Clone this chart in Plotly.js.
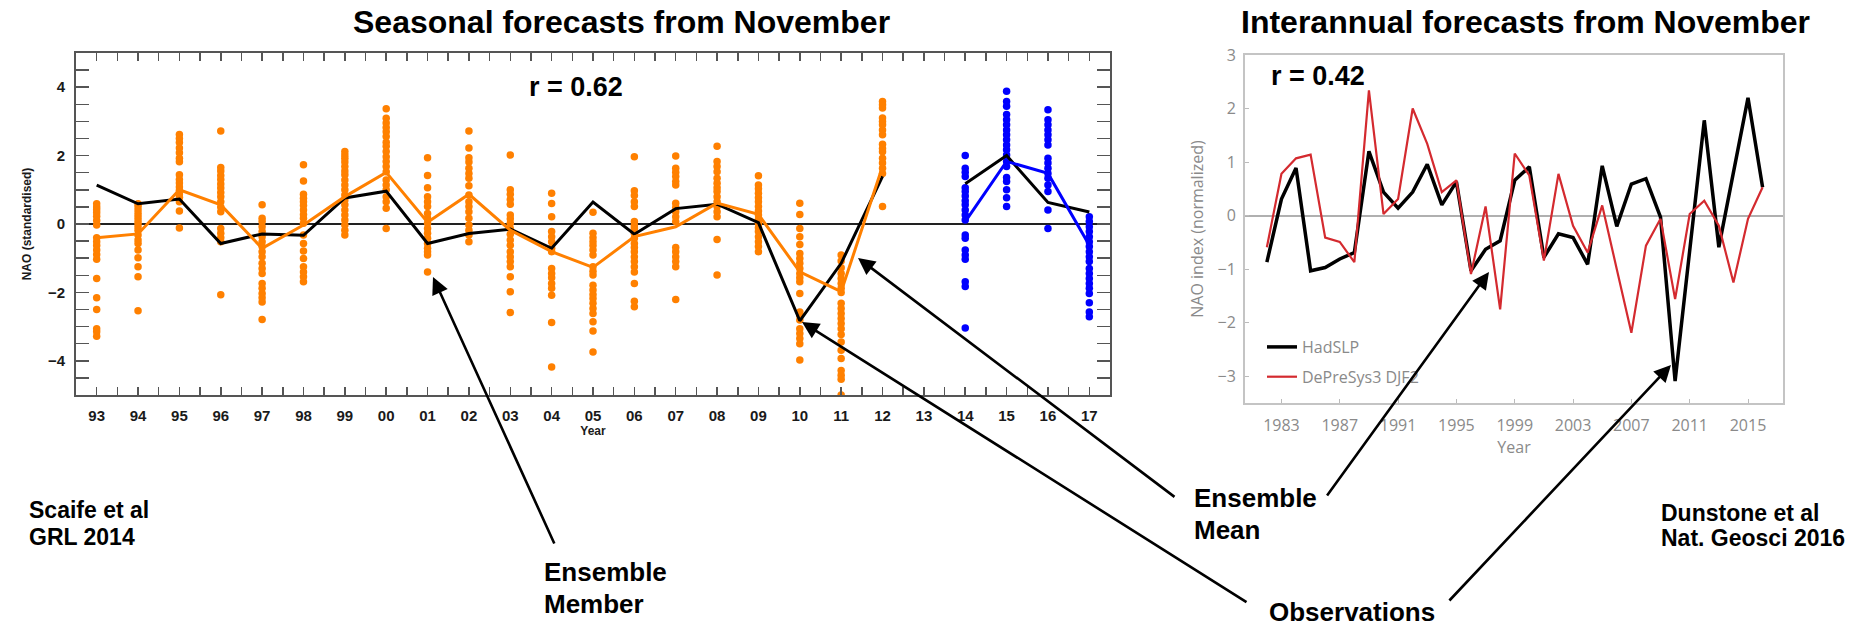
<!DOCTYPE html>
<html>
<head>
<meta charset="utf-8">
<script src="https://cdn.plot.ly/plotly-3.0.1.min.js"></script>
<style>html,body{margin:0;padding:0;background:#fff;}#chart{width:1870px;height:630px;}</style>
</head>
<body>
<div id="chart"></div>
<script>
// ---------- Left panel: seasonal forecasts (Scaife et al 2014) ----------
const seasonYears = [1993,1994,1995,1996,1997,1998,1999,2000,2001,2002,2003,2004,2005,2006,2007,2008,2009,2010,2011,2012,2013,2014,2015,2016,2017];
const seasonTickLabels = ['93','94','95','96','97','98','99','00','01','02','03','04','05','06','07','08','09','10','11','12','13','14','15','16','17'];
const obsSeasonal = [1.14,0.59,0.73,-0.57,-0.29,-0.33,0.76,0.96,-0.57,-0.28,-0.15,-0.71,0.64,-0.30,0.45,0.58,0.04,-2.83,-1.15,1.39,null,1.18,2.0,0.63,0.35];
const hindcastYears = [1993,1994,1995,1996,1997,1998,1999,2000,2001,2002,2003,2004,2005,2006,2007,2008,2009,2010,2011,2012];
const hindcastMean = [-0.40,-0.29,1.0,0.56,-0.71,-0.03,0.80,1.51,0.05,0.87,-0.18,-0.81,-1.27,-0.37,-0.08,0.61,0.28,-1.40,-1.98,1.68];
const forecastYears = [2014,2015,2016,2017];
const forecastMean = [0.07,1.83,1.48,-0.62];

const m1993 = [0.59,0.50,0.42,0.33,0.23,0.10,-0.03,-0.40,-0.52,-0.63,-0.76,-0.89,-1.03,-1.59,-2.16,-2.50,-3.06,-3.15,-3.28];
const m1994 = [0.59,0.51,0.41,0.31,0.21,0.12,0.02,-0.08,-0.18,-0.32,-0.47,-0.57,-0.76,-0.99,-1.25,-1.54,-2.54];
const m1995 = [2.62,2.50,2.38,2.22,2.08,1.92,1.82,1.44,1.30,1.20,1.08,0.98,0.88,0.78,0.65,0.38,-0.12];
const m1996 = [2.72,1.65,1.55,1.42,1.30,1.17,1.05,0.92,0.80,0.65,0.50,0.36,-0.13,-0.27,-0.40,-0.52,-2.07];
const m1997 = [0.56,0.17,0.07,-0.08,-0.22,-0.37,-0.52,-0.66,-0.81,-0.96,-1.15,-1.30,-1.45,-1.74,-1.88,-2.03,-2.16,-2.28,-2.79];
const m1998 = [1.73,1.26,0.87,0.75,0.65,0.54,0.41,0.28,0.17,0.02,-0.32,-0.57,-0.79,-1.01,-1.25,-1.40,-1.54,-1.69];
const m1999 = [2.12,2.02,1.92,1.81,1.68,1.55,1.44,1.29,1.14,1.00,0.85,0.70,0.56,0.41,0.26,0.12,-0.03,-0.18,-0.32];
const m2000 = [3.37,3.09,2.95,2.82,2.70,2.56,2.39,2.27,2.12,1.97,1.83,1.68,1.53,1.29,1.14,1.00,0.80,0.65,0.46,-0.13];
const m2001 = [1.94,1.42,1.06,0.80,0.65,0.51,0.31,0.17,0.02,-0.13,-0.27,-0.42,-0.57,-0.71,-0.81,-0.91,-1.40];
const m2002 = [2.72,2.22,1.94,1.81,1.63,1.48,1.34,1.12,0.85,0.65,0.51,0.36,0.17,-0.03,-0.18,-0.32,-0.52];
const m2003 = [2.02,1.00,0.87,0.72,0.58,0.26,0.15,0.02,-0.13,-0.30,-0.47,-0.62,-0.81,-0.96,-1.10,-1.25,-1.54,-1.98,-2.59];
const m2004 = [0.90,0.60,0.21,-0.22,-0.37,-0.52,-0.71,-0.81,-1.30,-1.45,-1.57,-1.74,-1.88,-2.08,-2.88,-4.18];
const m2005 = [0.34,-0.27,-0.40,-0.52,-0.63,-0.76,-0.91,-1.25,-1.38,-1.49,-1.79,-1.93,-2.06,-2.18,-2.32,-2.47,-2.62,-2.86,-3.13,-3.74];
const m2006 = [1.97,0.97,0.83,0.65,0.51,0.07,-0.05,-0.13,-0.27,-0.42,-0.57,-0.69,-0.81,-0.96,-1.10,-1.25,-1.40,-1.74,-2.26,-2.42];
const m2007 = [1.99,1.63,1.51,1.39,1.24,1.14,0.61,0.48,0.36,0.21,0.07,-0.69,-0.81,-0.96,-1.10,-1.25,-2.21];
const m2008 = [2.27,1.83,1.68,1.53,1.34,1.19,1.06,0.95,0.80,0.65,0.51,0.36,0.21,-0.45,-1.49];
const m2009 = [1.41,1.14,1.03,0.90,0.77,0.65,0.51,0.38,0.26,0.14,0.02,-0.11,-0.22,-0.37,-0.52,-0.66,-0.81];
const m2010 = [0.61,0.28,-0.13,-0.37,-0.60,-0.86,-1.01,-1.15,-1.30,-1.45,-1.57,-1.69,-2.03,-2.57,-2.67,-2.81,-3.06,-3.20,-3.35,-3.50,-3.98];
const m2011 = [-0.91,-1.08,-1.28,-1.45,-1.59,-1.74,-1.88,-2.00,-2.32,-2.47,-2.62,-2.76,-2.91,-3.06,-3.23,-3.45,-3.69,-3.93,-4.28,-4.42,-4.54,-5.0];
const m2012 = [3.58,3.49,3.39,3.10,3.00,2.90,2.75,2.61,2.33,2.21,2.11,1.92,1.78,1.63,1.48,0.51];
const m2014 = [2.00,1.63,1.51,1.39,1.06,0.95,0.82,0.68,0.56,0.41,0.26,0.12,-0.32,-0.42,-0.76,-0.91,-1.03,-1.69,-1.83,-3.04];
const m2015 = [3.88,3.58,3.44,3.20,3.05,2.90,2.75,2.61,2.46,2.31,2.17,2.02,1.83,1.68,1.36,1.24,1.00,0.77,0.51];
const m2016 = [3.34,3.05,2.90,2.75,2.61,2.46,2.31,1.92,1.78,1.63,1.48,1.34,1.14,0.95,0.41,-0.13];
const m2017 = [0.21,0.07,-0.08,-0.22,-0.37,-0.52,-0.66,-0.81,-0.96,-1.10,-1.30,-1.45,-1.59,-1.74,-1.88,-2.03,-2.30,-2.57,-2.71];

// ---------- Right panel: interannual forecasts (Dunstone et al 2016) ----------
const interYears = [1982,1983,1984,1985,1986,1987,1988,1989,1990,1991,1992,1993,1994,1995,1996,1997,1998,1999,2000,2001,2002,2003,2004,2005,2006,2007,2008,2009,2010,2011,2012,2013,2014,2015,2016];
const hadSLP = [-0.87,0.31,0.89,-1.03,-0.97,-0.81,-0.69,1.20,0.44,0.14,0.44,0.96,0.20,0.63,-1.03,-0.63,-0.47,0.66,0.91,-0.78,-0.34,-0.41,-0.91,0.93,-0.20,0.59,0.69,-0.03,-3.09,-0.62,1.78,-0.59,0.80,2.20,0.53];
const dePreSys = [-0.59,0.78,1.07,1.14,-0.41,-0.49,-0.87,2.34,0.03,0.31,2.00,1.34,0.44,0.66,-1.09,0.17,-1.75,1.16,0.75,-0.84,0.78,-0.19,-0.69,0.19,-1.00,-2.19,-0.56,-0.06,-1.56,0.03,0.28,-0.19,-1.25,-0.06,0.53];
const interTickVals = [1983,1987,1991,1995,1999,2003,2007,2011,2015];
const interTickLabels = ['1983','1987','1991','1995','1999','2003','2007','2011','2015'];
const interYTicks = [-3,-2,-1,0,1,2,3];

// ---------- build member clouds ----------
const hindcastMembers = [[1993,m1993],[1994,m1994],[1995,m1995],[1996,m1996],[1997,m1997],[1998,m1998],[1999,m1999],[2000,m2000],[2001,m2001],[2002,m2002],[2003,m2003],[2004,m2004],[2005,m2005],[2006,m2006],[2007,m2007],[2008,m2008],[2009,m2009],[2010,m2010],[2011,m2011],[2012,m2012]];
const forecastMembers = [[2014,m2014],[2015,m2015],[2016,m2016],[2017,m2017]];
function flatten(groups){
  const xs=[], ys=[];
  groups.forEach(([yr, vals]) => vals.forEach(v => { xs.push(yr); ys.push(v); }));
  return {xs, ys};
}
const hc = flatten(hindcastMembers), fc = flatten(forecastMembers);

// tick positions every half year / half unit
const xTickVals = [], xTickText = [];
seasonYears.forEach((y, i) => {
  xTickVals.push(y); xTickText.push(seasonTickLabels[i]);
  if (i < seasonYears.length - 1) { xTickVals.push(y + 0.5); xTickText.push(''); }
});
const yTickVals = [], yTickText = [];
for (let k = -9; k <= 9; k++) {
  const v = k / 2;
  yTickVals.push(v);
  yTickText.push(Number.isInteger(v) && v % 2 === 0 ? (v < 0 ? '\u2212' + Math.abs(v) : String(v)) : '');
}

const ORANGE = '#ff8000', BLUE = '#0000ff', RED = '#d42a2f';
const SANS = '"Liberation Sans",Arial,Helvetica,sans-serif';
const NAT = '"Open Sans","Noto Sans",sans-serif';

const traces = [
  {x: hc.xs, y: hc.ys, xaxis:'x', yaxis:'y', type:'scatter', mode:'markers', showlegend:false,
   marker:{color:ORANGE, size:7.5}, hoverinfo:'x+y'},
  {x: fc.xs, y: fc.ys, xaxis:'x', yaxis:'y', type:'scatter', mode:'markers', showlegend:false,
   marker:{color:BLUE, size:7.5}, hoverinfo:'x+y'},
  {x: seasonYears, y: obsSeasonal, xaxis:'x', yaxis:'y', type:'scatter', mode:'lines', showlegend:false,
   line:{color:'#000', width:3}, connectgaps:false},
  {x: hindcastYears, y: hindcastMean, xaxis:'x', yaxis:'y', type:'scatter', mode:'lines', showlegend:false,
   line:{color:ORANGE, width:3}},
  {x: forecastYears, y: forecastMean, xaxis:'x', yaxis:'y', type:'scatter', mode:'lines', showlegend:false,
   line:{color:BLUE, width:3}},
  {x: interYears, y: hadSLP, xaxis:'x2', yaxis:'y2', type:'scatter', mode:'lines', name:'HadSLP',
   legendgroup:'a', line:{color:'#000', width:3.5}},
  {x: interYears, y: dePreSys, xaxis:'x2', yaxis:'y2', type:'scatter', mode:'lines', name:'DePreSys3 DJF2',
   legendgroup:'b', line:{color:RED, width:2.2}}
];

const W = 1870, H = 630;
const px = v => v / W, py = v => 1 - v / H;

function arrow(hx, hy, tx, ty){
  return {xref:'paper', yref:'paper', x:px(hx), y:py(hy), ax:tx-hx, ay:ty-hy, text:'',
          showarrow:true, arrowhead:2, arrowsize:1.3, arrowwidth:2.6, arrowcolor:'#000', standoff:0, startstandoff:0};
}
function label(text, x, y, size, xanchor, yanchor){
  return {xref:'paper', yref:'paper', x:px(x), y:py(y), text:text, showarrow:false,
          xanchor:xanchor, yanchor:yanchor || 'middle', align:'left',
          font:{family:SANS, size:size, color:'#000', weight:'bold'}};
}

const annotations = [
  label('Seasonal forecasts from November', 621, 22, 32, 'center'),
  label('Interannual forecasts from November', 1525, 22, 32, 'center'),
  label('r = 0.62', 576, 87, 27, 'center'),
  label('r = 0.42', 1318, 76, 27, 'center'),
  label('Scaife et al', 27, 510, 23, 'left'),
  label('GRL 2014', 27, 537, 23, 'left'),
  label('Ensemble', 542, 572, 26, 'left'),
  label('Member', 542, 604, 26, 'left'),
  label('Ensemble', 1192, 498, 26, 'left'),
  label('Mean', 1192, 530, 26, 'left'),
  label('Dunstone et al', 1659, 513, 23, 'left'),
  label('Nat. Geosci 2016', 1659, 538, 23, 'left'),
  label('Observations', 1267, 629, 26, 'left', 'bottom'),
  arrow(433, 277, 555, 545),
  arrow(858, 258, 1176, 498),
  arrow(1489, 272, 1326, 497),
  arrow(802, 322, 1248, 603),
  arrow(1671, 365, 1448, 602)
];

const layout = {
  width: W, height: H,
  margin: {l:0, r:0, t:0, b:0, pad:0},
  paper_bgcolor: '#fff', plot_bgcolor: '#fff',
  showlegend: true,
  legend: {x: px(1262), y: py(330), xanchor:'left', yanchor:'top', bgcolor:'rgba(0,0,0,0)',
           font:{family:NAT, size:16, color:'#8a8a8a'}, traceorder:'grouped', tracegroupgap:6},
  xaxis: {domain:[px(76), px(1110)], range:[1992.5, 2017.5], anchor:'y',
          tickmode:'array', tickvals:xTickVals, ticktext:xTickText,
          ticks:'inside', ticklen:8, tickwidth:1.5, tickcolor:'#555',
          showline:true, linecolor:'#555', linewidth:2, mirror:'allticks',
          showgrid:false, zeroline:false, ticklabelstandoff:6,
          tickfont:{family:SANS, size:15, color:'#1a1a1a', weight:'bold'},
          title:{text:'Year', font:{family:SANS, size:12, color:'#1a1a1a', weight:'bold'}, standoff:2}},
  yaxis: {domain:[py(395), py(53)], range:[-5, 5], anchor:'x',
          tickmode:'array', tickvals:yTickVals, ticktext:yTickText,
          ticks:'inside', ticklen:13, tickwidth:1.5, tickcolor:'#555',
          showline:true, linecolor:'#555', linewidth:2, mirror:'allticks',
          showgrid:false, zeroline:true, zerolinecolor:'#222', zerolinewidth:1.5,
          ticklabelstandoff:6,
          tickfont:{family:SANS, size:15, color:'#1a1a1a', weight:'bold'},
          title:{text:'NAO (standardised)', font:{family:SANS, size:12, color:'#1a1a1a', weight:'bold'}, standoff:14}},
  xaxis2: {domain:[px(1245), px(1783)], range:[1980.5, 2017.4], anchor:'y2',
           tickmode:'array', tickvals:interTickVals, ticktext:interTickLabels,
           ticks:'inside', ticklen:4, tickwidth:1, tickcolor:'#bbb',
           showline:true, linecolor:'#c4c4c4', linewidth:2, mirror:true,
           showgrid:false, zeroline:false, ticklabelstandoff:7,
           tickfont:{family:NAT, size:16, color:'#8a8a8a'},
           title:{text:'Year', font:{family:NAT, size:16, color:'#8a8a8a'}, standoff:4}},
  yaxis2: {domain:[py(403), py(55)], range:[-3.5, 3], anchor:'x2',
           tickmode:'array', tickvals:interYTicks,
           ticks:'inside', ticklen:4, tickwidth:1, tickcolor:'#bbb',
           showline:true, linecolor:'#c4c4c4', linewidth:2, mirror:true,
           showgrid:false, zeroline:true, zerolinecolor:'#b0b0b0', zerolinewidth:2,
           ticklabelstandoff:4,
           tickfont:{family:NAT, size:16, color:'#8a8a8a'},
           title:{text:'NAO index (normalized)', font:{family:NAT, size:16, color:'#8a8a8a'}, standoff:10}},
  annotations: annotations
};

Plotly.newPlot('chart', traces, layout, {staticPlot:true, displayModeBar:false});
</script>
</body>
</html>
